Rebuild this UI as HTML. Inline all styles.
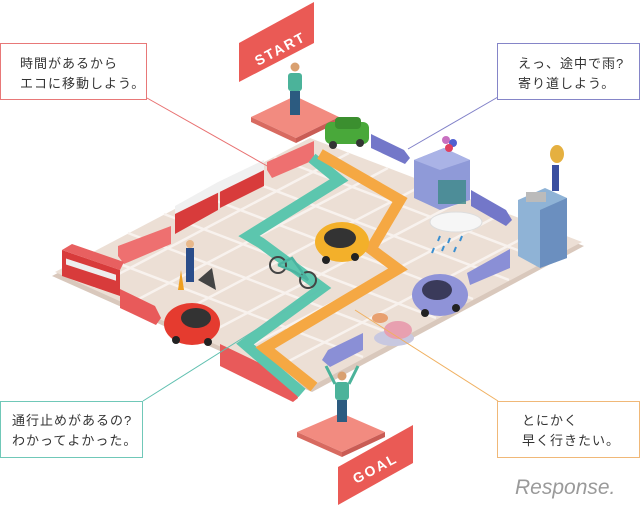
<!DOCTYPE html>
<html><head><meta charset="utf-8"><style>
html,body{margin:0;padding:0;background:#fff;}
svg{display:block}
.t{font-family:"Liberation Sans","Noto Sans CJK JP",sans-serif;font-size:13px;fill:#333;letter-spacing:1px}
</style></head><body>
<svg width="640" height="508" viewBox="0 0 640 508" xmlns="http://www.w3.org/2000/svg">
<!-- board -->
<polygon points="310,142 584,246 312,392 52,276" fill="#d9c8bc"/>
<polygon points="310,138 582,242 310,387 55,272" fill="#ecdfd5"/>
<g stroke="#f8f2ee" stroke-width="2.5">
<line x1="274" y1="157" x2="546" y2="261"/>
<line x1="237" y1="176" x2="509" y2="280"/>
<line x1="201" y1="195" x2="473" y2="299"/>
<line x1="164" y1="214" x2="436" y2="318"/>
<line x1="128" y1="233" x2="400" y2="337"/>
<line x1="91" y1="253" x2="363" y2="357"/>
<line x1="349" y1="153" x2="94" y2="287"/>
<line x1="388" y1="168" x2="133" y2="302"/>
<line x1="427" y1="183" x2="172" y2="317"/>
<line x1="466" y1="198" x2="211" y2="332"/>
<line x1="505" y1="212" x2="250" y2="346"/>
<line x1="544" y1="227" x2="289" y2="361"/>
</g>
<!-- start pad -->
<polygon points="295,96 339,117 296,138 251,117" fill="#f28b80"/>
<polygon points="251,117 296,138 296,143 251,122" fill="#d86a60"/>
<polygon points="296,138 339,117 339,122 296,143" fill="#c95c55"/>
<!-- goal pad -->
<polygon points="341,413 385,432 342,452 297,432" fill="#f28b80"/>
<polygon points="297,432 342,452 342,457 297,437" fill="#d86a60"/>
<polygon points="342,452 385,432 385,437 342,457" fill="#c95c55"/>
<!-- banners -->
<polygon points="239,43 314,2 314,43 239,82" fill="#ea5a55"/>
<text x="0" y="0" transform="translate(258,66) rotate(-28)" font-family="Liberation Sans,sans-serif" font-weight="bold" font-size="14" fill="#fff" letter-spacing="2">START</text>
<polygon points="338,467 413,425 413,463 338,505" fill="#ea5a55"/>
<text x="0" y="0" transform="translate(356,484) rotate(-28)" font-family="Liberation Sans,sans-serif" font-weight="bold" font-size="14" fill="#fff" letter-spacing="2">GOAL</text>
<!-- red arrows -->
<polygon points="267,162 314,141 314,160 272,178 267,170" fill="#ee7070"/>
<polygon points="118,246 171,226 171,244 124,264 118,256" fill="#ee7070"/>
<polygon points="120,289 155,306 161,318 156,325 120,308" fill="#e85a5a"/>
<polygon points="220,344 295,380 298,398 293,402 220,366" fill="#e85a5a"/>
<!-- blue arrows -->
<polygon points="371,134 404,150 410,158 405,164 371,148" fill="#7377c9"/>
<polygon points="471,190 506,210 512,220 506,226 471,206" fill="#7377c9"/>
<polygon points="510,249 510,268 470,285 467,273" fill="#8a8fd6"/>
<polygon points="363,333 363,350 330,367 322,360 328,350" fill="#8a8fd6"/>
<!-- teal path -->
<polyline points="312,158 339,180 249,236 261,243 322,288 245,344 302,393" fill="none" stroke="#5cc6ae" stroke-width="11" stroke-linejoin="miter"/>
<!-- orange path -->
<polyline points="320,154 400,200 371,249 398,269 265,348 314,387" fill="none" stroke="#f5a843" stroke-width="11" stroke-linejoin="miter"/>
<!-- green car -->
<g><rect x="325" y="122" width="44" height="22" rx="6" fill="#49a83a"/><rect x="335" y="117" width="26" height="12" rx="4" fill="#3b8f2f"/><circle cx="333" cy="145" r="4" fill="#333"/><circle cx="360" cy="143" r="4" fill="#333"/></g>
<!-- train -->
<polygon points="175,212 218,188 218,210 175,234" fill="#d83b3b"/>
<polygon points="220,186 264,164 264,186 220,208" fill="#d83b3b"/>
<polygon points="175,206 218,182 264,160 264,170 175,214" fill="#f0f0f0"/>
<!-- bus -->
<polygon points="62,250 120,270 120,296 62,276" fill="#d83b3b"/>
<polygon points="62,250 72,244 124,262 120,270" fill="#e86060"/>
<rect x="66" y="258" width="50" height="6" fill="#eee" transform="skewY(18) translate(0,-21)"/>
<!-- worker & barrier -->
<rect x="186" y="248" width="8" height="34" fill="#2a4d8a"/>
<circle cx="190" cy="244" r="4" fill="#e8b88a"/>
<polygon points="178,290 184,290 181,270" fill="#f0a020"/>
<polygon points="198,280 212,268 216,290" fill="#444"/>
<!-- bicycle -->
<circle cx="278" cy="265" r="8" fill="none" stroke="#444" stroke-width="2"/>
<circle cx="308" cy="280" r="8" fill="none" stroke="#444" stroke-width="2"/>
<polyline points="278,265 292,258 308,280 295,272 278,265" fill="none" stroke="#4bb3a0" stroke-width="2.5"/>
<!-- yellow car -->
<ellipse cx="342" cy="242" rx="27" ry="20" fill="#f3b02a"/>
<ellipse cx="340" cy="238" rx="16" ry="10" fill="#333"/>
<circle cx="326" cy="260" r="4" fill="#222"/><circle cx="355" cy="257" r="4" fill="#222"/>
<!-- shop -->
<polygon points="414,160 444,148 470,160 470,200 440,210 414,198" fill="#8f9ad8"/>
<polygon points="414,160 444,148 470,160 440,170" fill="#aab3e6"/>
<rect x="438" y="180" width="28" height="24" fill="#3c8a88" opacity=".8"/>
<circle cx="446" cy="140" r="4" fill="#c870c0"/><circle cx="453" cy="143" r="4" fill="#5060d0"/><circle cx="449" cy="148" r="4" fill="#e04060"/>
<!-- building -->
<polygon points="518,200 545,188 567,198 567,258 540,268 518,256" fill="#8fb3d6"/>
<polygon points="540,210 567,198 567,258 540,268" fill="#6b8fbf"/>
<rect x="526" y="192" width="20" height="10" fill="#bbb"/>
<ellipse cx="557" cy="154" rx="7" ry="9" fill="#e5b040"/>
<rect x="552" y="165" width="7" height="26" fill="#3a4fa0"/>
<!-- cloud & rain -->
<ellipse cx="456" cy="222" rx="26" ry="10" fill="#f6f6f6" stroke="#ddd"/>
<g stroke="#3b8fd0" stroke-width="2"><line x1="440" y1="236" x2="438" y2="241"/><line x1="450" y1="238" x2="448" y2="243"/><line x1="462" y1="236" x2="460" y2="241"/><line x1="444" y1="246" x2="442" y2="251"/><line x1="456" y1="247" x2="454" y2="252"/><line x1="434" y1="248" x2="432" y2="253"/></g>
<!-- purple car -->
<ellipse cx="440" cy="295" rx="28" ry="21" fill="#8f93d8"/>
<ellipse cx="437" cy="290" rx="15" ry="10" fill="#3a3a5a"/>
<circle cx="425" cy="313" r="4" fill="#222"/><circle cx="456" cy="308" r="4" fill="#222"/>
<!-- cakes -->
<ellipse cx="394" cy="338" rx="20" ry="8" fill="#c8c8e0"/>
<ellipse cx="398" cy="330" rx="14" ry="9" fill="#e8a0b0"/>
<ellipse cx="380" cy="318" rx="8" ry="5" fill="#e8a070"/>
<!-- red car -->
<ellipse cx="192" cy="324" rx="28" ry="21" fill="#e53b2f"/>
<ellipse cx="196" cy="318" rx="15" ry="10" fill="#333"/>
<circle cx="176" cy="340" r="4" fill="#222"/><circle cx="208" cy="342" r="4" fill="#222"/>
<!-- people -->
<rect x="288" y="73" width="14" height="18" rx="3" fill="#4bb39a"/><circle cx="295" cy="67" r="4.5" fill="#d9a070"/><rect x="290" y="91" width="10" height="24" fill="#2c5b80"/>
<rect x="335" y="382" width="14" height="18" rx="3" fill="#4bb39a"/><circle cx="342" cy="376" r="4.5" fill="#d9a070"/><rect x="337" y="400" width="10" height="22" fill="#2c5b80"/>
<line x1="335" y1="384" x2="326" y2="366" stroke="#4bb39a" stroke-width="3"/><line x1="349" y1="384" x2="358" y2="366" stroke="#4bb39a" stroke-width="3"/>
<!-- leader lines -->
<line x1="147" y1="98" x2="269" y2="167" stroke="#e87070" stroke-width="1"/>
<line x1="498" y1="97" x2="408" y2="149" stroke="#8080c8" stroke-width="1"/>
<line x1="143" y1="401" x2="322" y2="288" stroke="#60c0b0" stroke-width="1"/>
<line x1="498" y1="401" x2="355" y2="310" stroke="#f0b060" stroke-width="1"/>
<!-- boxes -->
<rect x="0.5" y="43.5" width="146" height="56" fill="#fff" stroke="#e87878"/>
<text class="t" x="20" y="68">時間があるから</text>
<text class="t" x="20" y="88">エコに移動しよう。</text>
<rect x="497.5" y="43.5" width="142" height="56" fill="#fff" stroke="#8585c8"/>
<text class="t" x="518" y="68">えっ、途中で雨?</text>
<text class="t" x="518" y="88">寄り道しよう。</text>
<rect x="0.5" y="401.5" width="142" height="56" fill="#fff" stroke="#70c8b8"/>
<text class="t" x="12" y="425">通行止めがあるの?</text>
<text class="t" x="12" y="445">わかってよかった。</text>
<rect x="497.5" y="401.5" width="142" height="56" fill="#fff" stroke="#f0b878"/>
<text class="t" x="522" y="425">とにかく</text>
<text class="t" x="522" y="445">早く行きたい。</text>
<!-- logo -->
<text x="515" y="494" font-family="Liberation Sans,sans-serif" font-size="21" fill="#9a9a9a" font-style="italic">Response.</text>
</svg>
</body></html>
